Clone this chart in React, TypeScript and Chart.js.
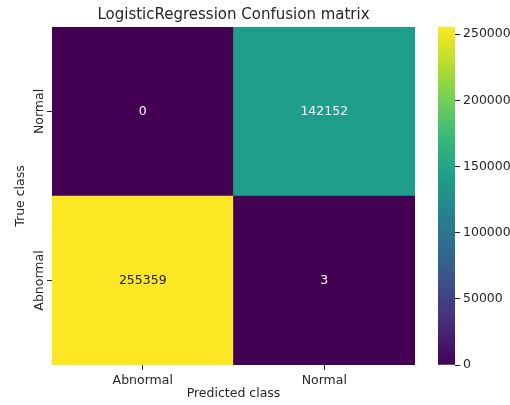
import React, { useEffect, useRef } from 'react';
import { Chart, registerables } from 'chart.js';

Chart.register(...registerables);
Chart.defaults.font.family = '"DejaVu Sans", sans-serif';

// Confusion matrix counts, one array per true class (row)
const predictedClasses = ['Abnormal', 'Normal'];
const trueClasses = ['Abnormal', 'Normal']; // bottom row first
const countsTrueAbnormal = [255359, 3];
const countsTrueNormal = [0, 142152];
const colorbarTicks = [0, 50000, 100000, 150000, 200000, 250000];

const chartTitle = 'LogisticRegression Confusion matrix';
const xTitle = 'Predicted class';
const yTitle = 'True class';

const rows = [countsTrueAbnormal, countsTrueNormal];
const vmin = 0;
const vmax = Math.max(...countsTrueAbnormal, ...countsTrueNormal);

const TEXT = '#262626';
const FONT = '"DejaVu Sans", sans-serif';

// viridis colormap sampled at 10 evenly spaced points
const VIRIDIS = [
  '#440154', '#482878', '#3e4989', '#31688e', '#26828e',
  '#1f9e89', '#35b779', '#6ece58', '#b5de2b', '#fde725',
];

function hexToRgb(h: string): number[] {
  return [1, 3, 5].map((i) => parseInt(h.slice(i, i + 2), 16));
}

function viridisRgb(t: number): number[] {
  const c = Math.min(1, Math.max(0, t)) * (VIRIDIS.length - 1);
  const i = Math.min(VIRIDIS.length - 2, Math.floor(c));
  const f = c - i;
  const a = hexToRgb(VIRIDIS[i]);
  const b = hexToRgb(VIRIDIS[i + 1]);
  return a.map((v, k) => Math.round(v + (b[k] - v) * f));
}

function colorFor(v: number): string {
  const [r, g, b] = viridisRgb((v - vmin) / (vmax - vmin));
  return `rgb(${r},${g},${b})`;
}

function textColorFor(v: number): string {
  const rgb = viridisRgb((v - vmin) / (vmax - vmin)).map((c) => {
    const s = c / 255;
    return s <= 0.03928 ? s / 12.92 : Math.pow((s + 0.055) / 1.055, 2.4);
  });
  const lum = 0.2126 * rgb[0] + 0.7152 * rgb[1] + 0.0722 * rgb[2];
  return lum > 0.408 ? TEXT : '#ffffff';
}

const heatmapText = {
  id: 'heatmapText',
  afterDatasetsDraw(chart: any) {
    const ctx = chart.ctx;
    ctx.save();
    ctx.font = `12.5px ${FONT}`;
    ctx.textAlign = 'center';
    ctx.textBaseline = 'middle';
    chart.data.datasets.forEach((_ds: any, di: number) => {
      const meta = chart.getDatasetMeta(di);
      meta.data.forEach((el: any, j: number) => {
        const v = rows[di][j];
        const { x, y, base } = el.getProps(['x', 'y', 'base'], true);
        ctx.fillStyle = textColorFor(v);
        ctx.fillText(String(v), x, (y + base) / 2);
      });
    });
    ctx.restore();
  },
  afterDraw(chart: any) {
    const ctx = chart.ctx;
    const area = chart.chartArea;
    const ys = chart.scales.y;
    ctx.save();
    ctx.fillStyle = TEXT;
    // title
    ctx.font = `15px ${FONT}`;
    ctx.textAlign = 'center';
    ctx.textBaseline = 'alphabetic';
    ctx.fillText(chartTitle, (area.left + area.right) / 2, 19);
    // rotated y tick labels
    ctx.font = `12.5px ${FONT}`;
    trueClasses.forEach((name, i) => {
      const py = ys.getPixelForValue(i + 0.5);
      ctx.save();
      ctx.translate(area.left - 9, py);
      ctx.rotate(-Math.PI / 2);
      ctx.fillText(name, 0, 0);
      ctx.restore();
    });
    // y axis title
    ctx.save();
    ctx.translate(23.5, (area.top + area.bottom) / 2);
    ctx.rotate(-Math.PI / 2);
    ctx.fillText(yTitle, 0, 0);
    ctx.restore();
    ctx.restore();
  },
};

export default function App() {
  const mainRef = useRef<HTMLCanvasElement>(null);
  const barRef = useRef<HTMLCanvasElement>(null);

  useEffect(() => {
    const main = new Chart(mainRef.current!, {
      type: 'bar',
      data: {
        labels: predictedClasses,
        datasets: rows.map((row, i) => ({
          label: trueClasses[i],
          data: row.map(() => [i, i + 1]),
          backgroundColor: row.map((v) => colorFor(v)),
          borderWidth: 0,
          barPercentage: 1,
          categoryPercentage: 1,
          grouped: false,
        })),
      },
      options: {
        responsive: false,
        animation: false,
        layout: { padding: { top: 27, right: 15, left: 0, bottom: 0 } },
        plugins: { legend: { display: false }, tooltip: { enabled: false } },
        scales: {
          x: {
            type: 'category',
            offset: true,
            grid: {
              offset: false,
              drawOnChartArea: false,
              drawTicks: true,
              tickLength: 5,
              color: TEXT,
              lineWidth: 1,
            },
            border: { display: false },
            ticks: { color: TEXT, font: { size: 12.5 }, padding: 3, maxRotation: 0 },
            title: {
              display: true,
              text: xTitle,
              color: TEXT,
              font: { size: 12.5 },
              padding: { top: 0, bottom: 4 },
            },
            afterFit: (s: any) => {
              s.height = 40;
            },
          },
          y: {
            type: 'linear',
            min: 0,
            max: trueClasses.length,
            afterBuildTicks: (s: any) => {
              s.ticks = trueClasses.map((_n, i) => ({ value: i + 0.5 }));
            },
            grid: {
              drawOnChartArea: false,
              drawTicks: true,
              tickLength: 5,
              color: TEXT,
              lineWidth: 1,
            },
            border: { display: false },
            ticks: { display: false },
            afterFit: (s: any) => {
              s.width = 52;
            },
          },
        },
      },
      plugins: [heatmapText],
    } as any);

    const colorbar = new Chart(barRef.current!, {
      type: 'bar',
      data: {
        labels: [''],
        datasets: [
          {
            data: [[vmin, vmax]],
            borderWidth: 0,
            barPercentage: 1,
            categoryPercentage: 1,
            backgroundColor: (c: any) => {
              const chart = c.chart;
              const ys = chart.scales.y;
              if (!chart.chartArea || !ys) return VIRIDIS[0];
              const g = chart.ctx.createLinearGradient(
                0, ys.getPixelForValue(vmin), 0, ys.getPixelForValue(vmax)
              );
              const n = 40;
              for (let k = 0; k <= n; k++) {
                const [r, gg, b] = viridisRgb(k / n);
                g.addColorStop(k / n, `rgb(${r},${gg},${b})`);
              }
              return g;
            },
          } as any,
        ],
      },
      options: {
        responsive: false,
        animation: false,
        layout: { padding: { top: 27, right: 0, left: 8, bottom: 40 } },
        plugins: { legend: { display: false }, tooltip: { enabled: false } },
        scales: {
          x: { display: false },
          y: {
            type: 'linear',
            position: 'right',
            min: vmin,
            max: vmax,
            afterBuildTicks: (s: any) => {
              s.ticks = colorbarTicks.map((v) => ({ value: v }));
            },
            grid: {
              drawOnChartArea: false,
              drawTicks: true,
              tickLength: 5,
              color: TEXT,
              lineWidth: 1,
            },
            border: { display: false },
            ticks: {
              color: TEXT,
              font: { size: 12.5 },
              padding: 3,
              callback: (v: any) => String(v),
            },
            afterFit: (s: any) => {
              s.width = 55;
            },
          },
        },
      },
    } as any);

    return () => {
      main.destroy();
      colorbar.destroy();
    };
  }, []);

  return (
    <div style={{ position: 'fixed', left: 0, top: 0, width: 510, height: 405, background: '#fff', overflow: 'hidden' }}>
      <canvas ref={mainRef} width={430} height={405} style={{ position: 'absolute', left: 0, top: 0 }} />
      <canvas ref={barRef} width={80} height={405} style={{ position: 'absolute', left: 430, top: 0 }} />
    </div>
  );
}
